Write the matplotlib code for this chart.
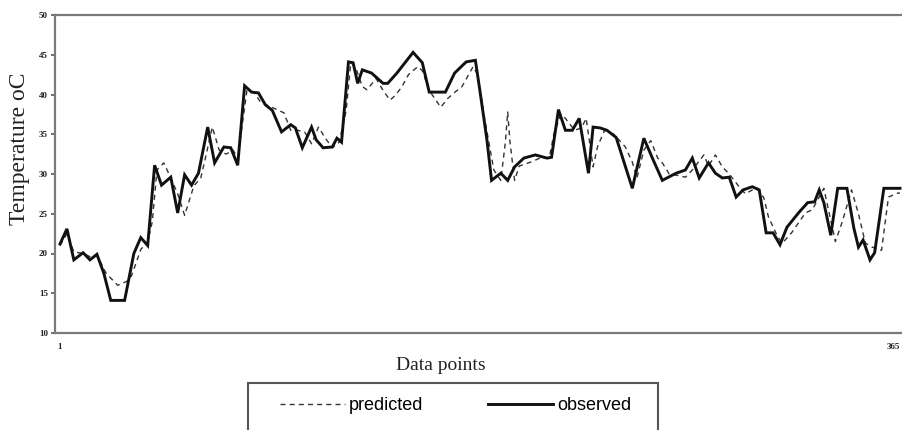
import matplotlib
matplotlib.use("Agg")
import matplotlib.pyplot as plt
from matplotlib.patches import Rectangle

# ---- data ----
obs_days = [1, 4, 7, 11, 14, 17, 20, 23, 29, 33, 36, 39, 42, 45, 49, 52, 55, 58, 61,
            65, 68, 72, 75, 78, 81, 84, 87, 90, 93, 97, 101, 103, 106, 110, 112, 115,
            119, 121, 123, 126, 128, 130, 132, 136, 141, 143, 147, 154, 158, 161, 168,
            172, 177, 181, 183, 186, 188, 192, 195, 198, 202, 207, 212, 214, 217, 220,
            223, 226, 230, 232, 235, 238, 242, 249, 254, 258, 262, 268, 272, 275, 278,
            282, 285, 288, 291, 294, 297, 301, 304, 307, 310, 313, 316, 321, 325, 328,
            330, 332, 335, 338, 342, 345, 347, 349, 352, 354, 358, 363, 365]
observed = [21.2, 23.1, 19.2, 20.1, 19.2, 19.9, 17.5, 14.1, 14.1, 20.0, 22.0, 21.0, 31.1,
            28.6, 29.6, 25.1, 29.9, 28.6, 30.1, 35.9, 31.4, 33.4, 33.3, 31.1, 41.1, 40.3,
            40.2, 38.7, 38.0, 35.3, 36.2, 35.8, 33.3, 35.9, 34.3, 33.3, 33.4, 34.5, 34.0,
            44.1, 44.0, 41.4, 43.1, 42.7, 41.4, 41.4, 42.7, 45.3, 44.0, 40.3, 40.3, 42.7,
            44.1, 44.3, 40.4, 34.3, 29.2, 30.1, 29.2, 30.9, 32.0, 32.4, 32.0, 32.1, 38.1,
            35.5, 35.5, 37.0, 30.1, 35.9, 35.8, 35.5, 34.6, 28.2, 34.5, 31.8, 29.2, 30.1,
            30.5, 32.0, 29.5, 31.4, 30.1, 29.5, 29.6, 27.1, 28.0, 28.4, 28.0, 22.6, 22.6,
            21.1, 23.3, 25.1, 26.4, 26.5, 28.0, 26.4, 22.3, 28.2, 28.2, 23.2, 20.8, 21.7,
            19.2, 20.1, 28.2, 28.2, 28.2]

pred_days = [1, 4, 7, 11, 14, 17, 21, 26, 30, 32, 36, 39, 41, 43, 46, 49, 52, 55, 59, 62,
             64, 67, 70, 73, 76, 78, 82, 85, 88, 92, 98, 101, 104, 107, 110, 113, 116, 119,
             122, 125, 127, 129, 132, 134, 138, 141, 144, 146, 149, 152, 156, 158, 161,
             166, 169, 173, 175, 180, 182, 185, 189, 192, 194, 195, 196, 198, 200, 205,
             209, 213, 215, 218, 220, 224, 227, 229, 232, 234, 237, 241, 246, 249, 251,
             254, 257, 260, 262, 265, 269, 272, 275, 280, 282, 285, 288, 291, 295, 298,
             301, 303, 306, 308, 312, 314, 318, 324, 327, 332, 334, 337, 340, 344, 347,
             350, 353, 357, 360, 364, 365]
predicted = [21.0, 22.5, 20.2, 20.0, 19.6, 19.8, 17.5, 16.0, 16.5, 17.2, 20.5, 21.5, 24.0,
             30.5, 31.4, 29.5, 27.5, 24.8, 28.5, 29.5, 32.0, 35.9, 33.0, 32.5, 33.0, 32.0,
             40.5, 40.3, 39.0, 38.5, 37.7, 35.5, 35.5, 35.3, 33.8, 35.9, 34.5, 33.3, 34.0,
             38.0, 44.0, 43.5, 41.0, 40.6, 42.0, 40.5, 39.3, 39.8, 40.9, 42.5, 43.5, 43.0,
             40.5, 38.4, 39.5, 40.5, 40.9, 43.5, 42.5, 37.0, 30.5, 29.2, 34.0, 37.8, 34.0,
             29.2, 31.0, 31.5, 32.0, 32.0, 35.0, 37.5, 37.0, 35.5, 35.8, 37.0, 30.9, 33.5,
             35.5, 35.0, 33.4, 31.5, 29.5, 33.0, 34.2, 32.0, 31.4, 30.0, 29.8, 29.6, 30.5,
             32.4, 31.0, 32.4, 30.9, 30.0, 28.5, 27.5, 28.0, 28.2, 27.0, 24.6, 22.1, 21.3,
             22.6, 25.1, 25.5, 28.2, 25.5, 21.5, 24.0, 28.0, 25.0, 21.3, 20.8, 20.4, 27.1,
             27.6, 27.6]

y_ticks = [10, 15, 20, 25, 30, 35, 40, 45, 50]
x_ticks = [1, 365]
x_tick_labels = ["1", "365"]

W, H = 903, 430
fig = plt.figure(figsize=(W / 100, H / 100), dpi=100)
fig.patch.set_facecolor("white")

ax = fig.add_axes([55 / W, 1 - 333 / H, (906 - 55) / W, (333 - 15) / H])
ax.plot(pred_days, predicted, color="#333333", lw=1.0, ls=(0, (3.6, 3.0)),
        label="predicted", zorder=2)
ax.plot(obs_days, observed, color="#111111", lw=2.1, label="observed",
        solid_joinstyle="miter", zorder=3)

ax.set_xlim(1 - 5 * 364 / 840, 365 + 6 * 364 / 840)
ax.set_ylim(10, 50)
ax.set_yticks(y_ticks)
ax.set_yticklabels([str(v) for v in y_ticks], fontsize=6.5, fontweight="bold",
                   family="Liberation Serif", color="#222222")
ax.set_xticks(x_ticks)
ax.set_xticklabels(x_tick_labels, fontsize=6.5, fontweight="bold",
                   family="Liberation Serif", color="#222222")
xl = ax.get_xticklabels()
xl[-1].set_horizontalalignment("right")
ax.tick_params(axis="y", direction="out", length=3, width=1.2, color="#555555", pad=2)
ax.tick_params(axis="x", length=0, pad=7)
for s in ax.spines.values():
    s.set_color("#7a7a7a")
    s.set_linewidth(1.6)

fig.text(20 / W, 1 - 149 / H, "Temperature oC", rotation=90, ha="center", va="center",
         fontsize=17, family="Liberation Serif", color="#222222")
fig.text(441 / W, 1 - 366 / H, "Data points", ha="center", va="center",
         fontsize=14, family="Liberation Serif", color="#222222")

# legend box
fig.add_artist(Rectangle((248 / W, -0.05), 410 / W, 0.05 + 1 - 383 / H,
                         transform=fig.transFigure, fill=False,
                         edgecolor="#555555", lw=1.5))
handles, labels = ax.get_legend_handles_labels()
fig.legend(handles, labels, loc="center left", bbox_to_anchor=(280 / W, 1 - 406 / H),
           ncol=2, frameon=False, borderpad=0, borderaxespad=0,
           handlelength=3.6, handletextpad=0.22, columnspacing=3.6,
           prop={"family": "Liberation Sans", "size": 13})

fig.savefig("out.png", dpi=100, facecolor="white")
